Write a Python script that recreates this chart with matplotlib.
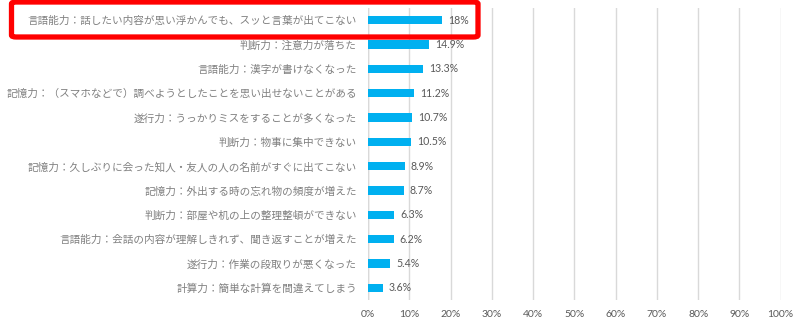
import matplotlib
matplotlib.use('Agg')
import matplotlib.pyplot as plt
from matplotlib.patches import FancyBboxPatch
from matplotlib.ticker import PercentFormatter

plt.rcParams['font.family'] = ['Noto Sans CJK JP', 'DejaVu Sans']

# データ（上から順に）
labels = [
    '言語能力：話したい内容が思い浮かんでも、スッと言葉が出てこない',
    '判断力：注意力が落ちた',
    '言語能力：漢字が書けなくなった',
    '記憶力：（スマホなどで）調べようとしたことを思い出せないことがある',
    '遂行力：うっかりミスをすることが多くなった',
    '判断力：物事に集中できない',
    '記憶力：久しぶりに会った知人・友人の人の名前がすぐに出てこない',
    '記憶力：外出する時の忘れ物の頻度が増えた',
    '判断力：部屋や机の上の整理整頓ができない',
    '言語能力：会話の内容が理解しきれず、聞き返すことが増えた',
    '遂行力：作業の段取りが悪くなった',
    '計算力：簡単な計算を間違えてしまう',
]
values = [18, 14.9, 13.3, 11.2, 10.7, 10.5, 8.9, 8.7, 6.3, 6.2, 5.4, 3.6]
value_text = ['18%', '14.9%', '13.3%', '11.2%', '10.7%', '10.5%',
              '8.9%', '8.7%', '6.3%', '6.2%', '5.4%', '3.6%']
xticks = [0, 10, 20, 30, 40, 50, 60, 70, 80, 90, 100]

W, H = 793, 318
fig = plt.figure(figsize=(W / 100, H / 100), dpi=100)
ax = fig.add_axes([368 / W, 1 - 300 / H, 412.7 / W, 292.1 / H])

y = list(range(len(labels)))
ax.barh(y, values, height=0.34, color='#00B0F0', zorder=3)
for yi, v, t in zip(y, values, value_text):
    ax.annotate(t, (v, yi), xytext=(6, 0), textcoords='offset pixels',
                va='center', ha='left', fontsize=7.6, color='#595959',
                family=['Lato', 'DejaVu Sans'])

ax.set_xlim(0, 100)
ax.set_ylim(len(labels) - 0.5, -0.5)
ax.set_xticks(xticks)
ax.xaxis.set_major_formatter(PercentFormatter(decimals=0))
ax.set_yticks(y)
ax.set_yticklabels(labels, fontsize=7.65, color='#808080')
ax.tick_params(axis='y', length=0, pad=8)
ax.tick_params(axis='x', length=0, pad=7, labelsize=7.5, labelcolor='#595959')
for lab in ax.get_xticklabels():
    lab.set_family(['Lato', 'DejaVu Sans'])
ax.grid(axis='x', color='#D9D9D9', lw=1, zorder=0)
for s in ax.spines.values():
    s.set_visible(False)
ax.axvline(0, color='#D0D0D0', lw=1, zorder=1)

# 赤枠
box = FancyBboxPatch((11.5 / W, 1 - 37 / H), (478 - 11.5) / W, 35 / H,
                     boxstyle='round,pad=0,rounding_size=0.006',
                     transform=fig.transFigure, fill=False,
                     edgecolor='#FF0000', lw=3.8, clip_on=False)
fig.patches.append(box)

fig.savefig('out.png', dpi=100)
